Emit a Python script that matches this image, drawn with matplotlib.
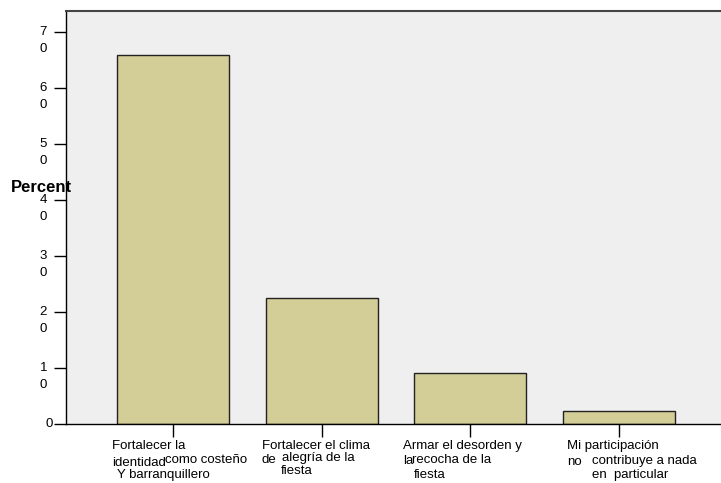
import matplotlib
matplotlib.use("Agg")
import matplotlib.pyplot as plt

plt.rcParams['font.family'] = ['Liberation Sans', 'DejaVu Sans']

# datos
categories = [
    "Fortalecer la identidad como costeño Y barranquillero",
    "Fortalecer el clima de alegría de la fiesta",
    "Armar el desorden y la recocha de la fiesta",
    "Mi participación no contribuye a nada en particular",
]
percent = [65.9, 22.5, 9.1, 2.3]
label_parts = [
    ["Fortalecer la", "identidad", "como costeño", "Y barranquillero"],
    ["Fortalecer el clima", "de", "alegría de la", "fiesta"],
    ["Armar el desorden y", "la", "recocha de la", "fiesta"],
    ["Mi participación", "no", "contribuye a nada", "en  particular"],
]
yticks = [0, 10, 20, 30, 40, 50, 60, 70]
ytick_labels = ["0", "1\n0", "2\n0", "3\n0", "4\n0", "5\n0", "6\n0", "7\n0"]

# desplazamientos (pixeles) de cada trozo de etiqueta respecto a su marca
part_offsets = [
    [(-61, -22), (-61, -39), (-8, -36), (-56, -51)],
    [(-60, -22), (-60, -36), (-40, -34), (-41, -47)],
    [(-67, -22), (-67, -37), (-58, -36), (-56, -51)],
    [(-52, -22), (-52, -38), (-27, -37), (-27, -51)],
]

fig = plt.figure(figsize=(7.21, 4.83), dpi=100)
ax = fig.add_axes([66 / 721, 59 / 483, 1 - 66 / 721, 413 / 483])
ax.set_facecolor("#efefef")

x = list(range(len(categories)))
ax.bar(x, percent, width=0.753, color="#d3ce97", edgecolor="#222222", linewidth=1)

ax.set_xlim(-0.72, 3.686)
ax.set_ylim(0, 73.75)

ax.spines['right'].set_visible(False)
ax.spines['top'].set_color("#444444")
ax.spines['top'].set_linewidth(1.5)
for s in ['left', 'bottom']:
    ax.spines[s].set_color("black")
    ax.spines[s].set_linewidth(1)

ax.set_xticks(x)
ax.set_xticklabels([""] * len(x))
ax.set_yticks(yticks)
ax.set_yticklabels([""] * len(yticks))
ax.tick_params(axis='both', direction='out', length=9, width=1, color="black")

for i, parts in enumerate(label_parts):
    for txt, (dx, dy) in zip(parts, part_offsets[i]):
        ax.annotate(txt, xy=(i, 0), xycoords=('data', 'axes fraction'),
                    xytext=(dx, dy), textcoords='offset pixels',
                    ha='left', va='center', fontsize=9.5, annotation_clip=False)

for v, lab in zip(yticks, ytick_labels):
    lines = lab.split("\n")
    dx = -13 if len(lines) == 1 else -19
    for j, line in enumerate(lines):
        ax.annotate(line, xy=(0, v), xycoords=('axes fraction', 'data'),
                    xytext=(dx, -17 * j), textcoords='offset pixels',
                    ha='right', va='center', fontsize=9.5, annotation_clip=False)

fig.text(11 / 721, 1 - 188 / 483, "Percent", fontsize=12, fontweight='bold',
         ha='left', va='center')

fig.savefig("out.png", dpi=100)
